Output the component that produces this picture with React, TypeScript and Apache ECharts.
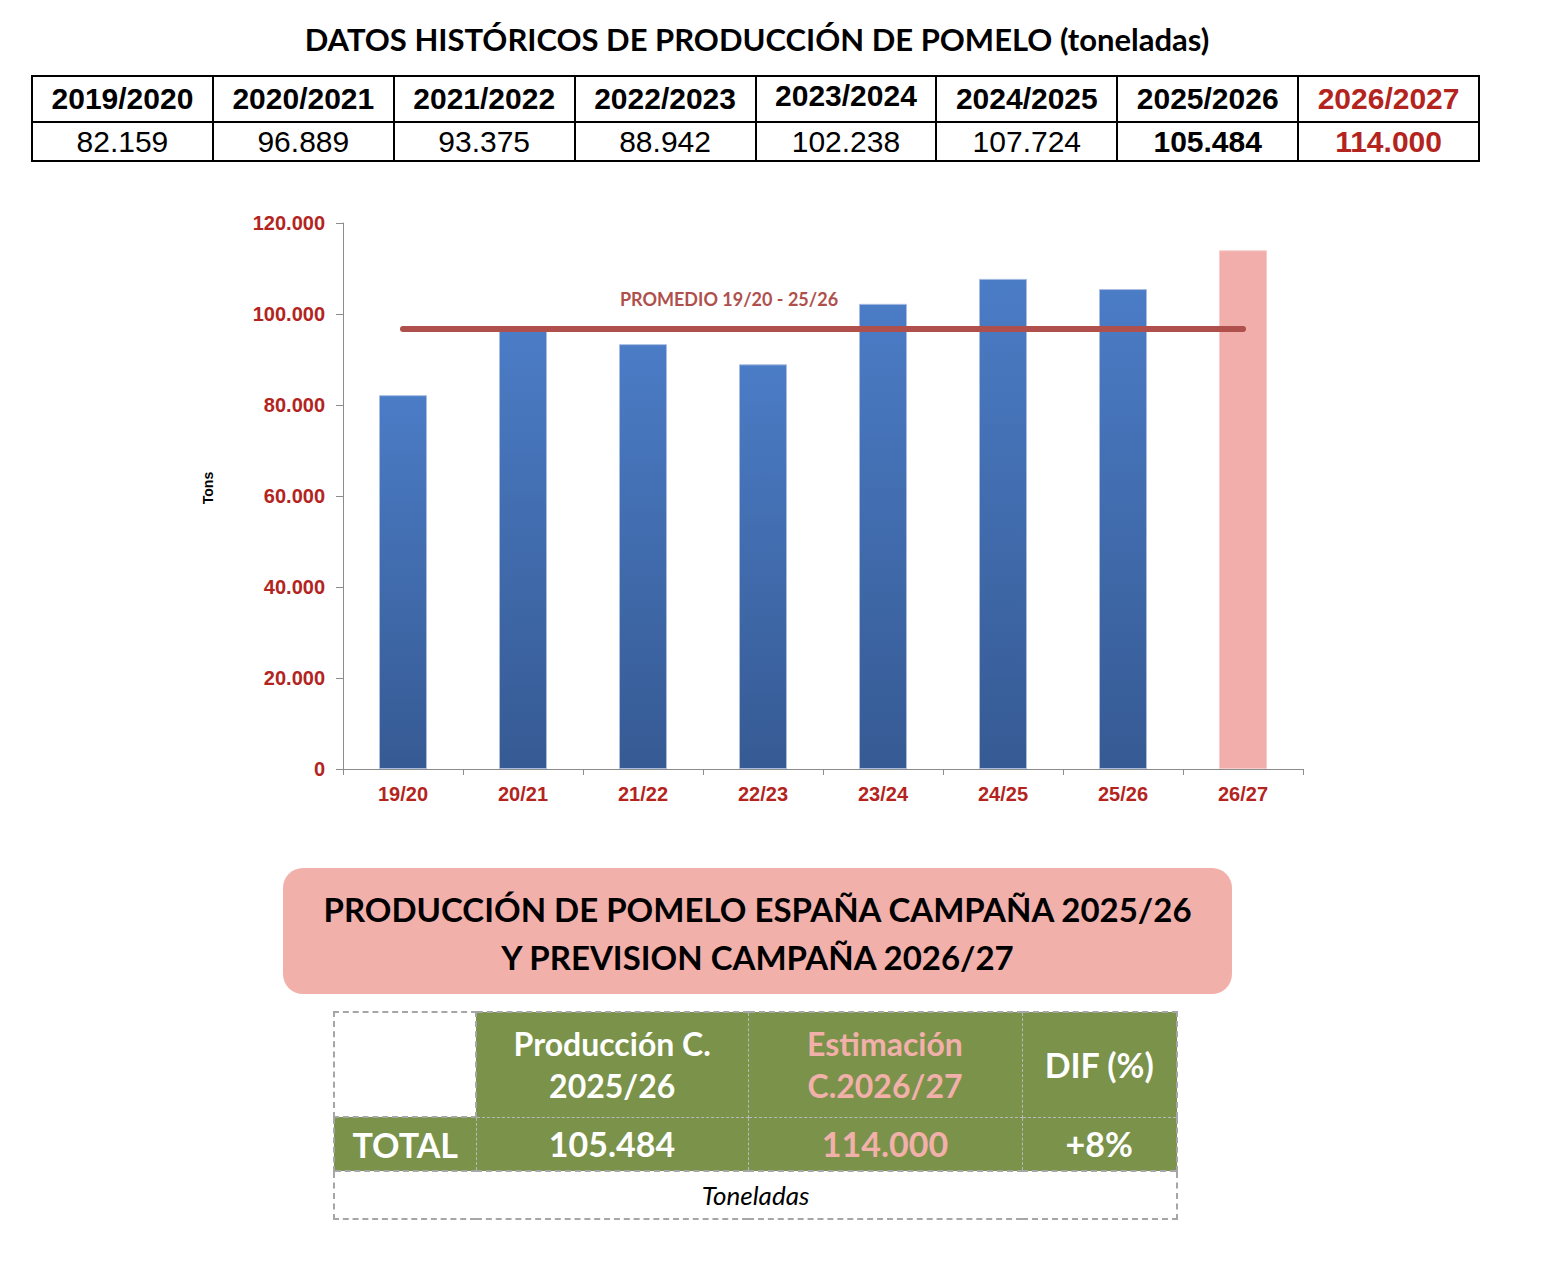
import React, { useEffect, useRef } from 'react';
import * as echarts from 'echarts';

// datos
const seasons = ['2019/2020', '2020/2021', '2021/2022', '2022/2023', '2023/2024', '2024/2025', '2025/2026', '2026/2027'];
const seasonLabels = ['19/20', '20/21', '21/22', '22/23', '23/24', '24/25', '25/26', '26/27'];
const production = [82159, 96889, 93375, 88942, 102238, 107724, 105484, 114000];
const forecastIndex = 7;
const currentIndex = 6;

const RED = '#b3241e';
const AVG_COLOR = '#b0504c';
const PINK = '#f2b0ab';
const GREEN = '#7b924a';
const CALIBRI = 'Lato, "Noto Sans", sans-serif';
const ARIAL = '"Liberation Sans", Arial, Helvetica, sans-serif';

const fmt = (v: number) => String(v).replace(/\B(?=(\d{3})+(?!\d))/g, '.');

// promedio de las campañas cerradas
const history = production.slice(0, forecastIndex);
const average = history.reduce((a, b) => a + b, 0) / history.length;
const diffPct = Math.round(((production[forecastIndex] - production[currentIndex]) / production[currentIndex]) * 100);

const Chart: React.FC = () => {
    const ref = useRef<HTMLDivElement>(null);

    useEffect(() => {
        if (!ref.current) return;
        const chart = echarts.init(ref.current, null, { renderer: 'svg' });
        const blue = new echarts.graphic.LinearGradient(0, 0, 0, 1, [
            { offset: 0, color: '#4b7cc6' },
            { offset: 1, color: '#365a93' }
        ]);
        chart.setOption({
            animation: false,
            grid: { left: 343, right: 243, top: 43, bottom: 71 },
            xAxis: {
                type: 'category',
                data: seasonLabels,
                axisLine: { lineStyle: { color: '#8c8c8c', width: 1 } },
                axisTick: { show: true, length: 6, lineStyle: { color: '#8c8c8c' } },
                axisLabel: {
                    color: RED,
                    fontWeight: 'bold',
                    fontSize: 20,
                    fontFamily: ARIAL,
                    margin: 15
                }
            },
            yAxis: {
                type: 'value',
                min: 0,
                max: 120000,
                interval: 20000,
                name: 'Tons',
                nameLocation: 'middle',
                nameRotate: 90,
                nameGap: 128,
                nameTextStyle: { color: '#000', fontWeight: 'bold', fontSize: 14, fontFamily: ARIAL, padding: [0, 0, 0, 16] },
                axisLine: { show: true, lineStyle: { color: '#8c8c8c', width: 1 } },
                axisTick: { show: true, length: 7, lineStyle: { color: '#8c8c8c' } },
                splitLine: { show: false },
                axisLabel: {
                    formatter: (v: number) => fmt(v),
                    color: RED,
                    fontWeight: 'bold',
                    fontSize: 20,
                    fontFamily: ARIAL,
                    margin: 18
                }
            },
            series: [
                {
                    type: 'bar',
                    barWidth: '40%',
                    itemStyle: { color: blue, borderColor: '#a9bde2', borderWidth: 1 },
                    data: production.map((v, i) =>
                        i === forecastIndex
                            ? { value: v, itemStyle: { color: '#f2aeab', borderColor: '#f7cdca', borderWidth: 1 } }
                            : v
                    ),
                    markLine: {
                        silent: true,
                        symbol: ['none', 'none'],
                        label: { show: false },
                        lineStyle: { color: AVG_COLOR, width: 6, type: 'solid', cap: 'round' },
                        data: [[
                            { coord: [seasonLabels[0], average] },
                            { coord: [seasonLabels[forecastIndex], average] }
                        ]]
                    }
                }
            ],
            graphic: [
                {
                    type: 'text',
                    x: 729,
                    y: 119,
                    style: {
                        text: `PROMEDIO ${seasonLabels[0]} - ${seasonLabels[currentIndex]}`,
                        fill: AVG_COLOR,
                        font: `bold 18px ${CALIBRI}`,
                        textAlign: 'center',
                        textVerticalAlign: 'middle'
                    }
                }
            ]
        });
        return () => chart.dispose();
    }, []);

    return <div ref={ref} style={{ position: 'absolute', left: 0, top: 180, width: 1546, height: 660 }} />;
};

const App: React.FC = () => {
    const topCell: React.CSSProperties = {
        border: '2px solid #000',
        textAlign: 'center',
        padding: 0,
        fontFamily: ARIAL,
        fontSize: 30,
        lineHeight: '34px'
    };
    const greenCell: React.CSSProperties = {
        background: GREEN,
        border: '1px dashed #b8b8b8',
        color: '#fff',
        fontFamily: CALIBRI,
        fontWeight: 'bold',
        textAlign: 'center',
        padding: 0
    };
    const dashed = '2px dashed #a6a6a6';

    return (
        <div style={{ position: 'relative', width: 1546, height: 1264, margin: -8, background: '#fff', overflow: 'hidden' }}>
            <div style={{
                position: 'absolute', left: 207, top: 20, width: 1100, textAlign: 'center',
                fontFamily: CALIBRI, fontWeight: 'bold', fontSize: 31, color: '#000'
            }}>
                DATOS HISTÓRICOS DE PRODUCCIÓN DE POMELO (toneladas)
            </div>

            <table style={{ position: 'absolute', left: 31, top: 75, width: 1449, borderCollapse: 'collapse', tableLayout: 'fixed' }}>
                <tbody>
                    <tr style={{ height: 46 }}>
                        {seasons.map((s, i) => (
                            <td key={s} style={{
                                ...topCell,
                                fontWeight: 'bold',
                                color: i === forecastIndex ? RED : '#000',
                                paddingBottom: i === 4 ? 6 : 0
                            }}>{s}</td>
                        ))}
                    </tr>
                    <tr style={{ height: 39 }}>
                        {production.map((v, i) => (
                            <td key={i} style={{
                                ...topCell,
                                fontWeight: i >= currentIndex ? 'bold' : 'normal',
                                color: i === forecastIndex ? RED : '#000'
                            }}>{fmt(v)}</td>
                        ))}
                    </tr>
                </tbody>
            </table>

            <Chart />

            <div style={{
                position: 'absolute', left: 283, top: 868, width: 949, height: 126, borderRadius: 20,
                background: PINK, display: 'flex', alignItems: 'center', justifyContent: 'center',
                textAlign: 'center', fontFamily: CALIBRI, fontWeight: 'bold', fontSize: 33, lineHeight: '48px', color: '#000'
            }}>
                <div style={{ marginTop: 4 }}>
                    PRODUCCIÓN DE POMELO ESPAÑA CAMPAÑA 2025/26<br />Y PREVISION CAMPAÑA 2026/27
                </div>
            </div>

            <table style={{ position: 'absolute', left: 333, top: 1011, width: 843, borderCollapse: 'collapse', tableLayout: 'fixed' }}>
                <colgroup>
                    <col style={{ width: 142 }} />
                    <col style={{ width: 272 }} />
                    <col style={{ width: 274 }} />
                    <col style={{ width: 155 }} />
                </colgroup>
                <tbody>
                    <tr style={{ height: 105 }}>
                        <td style={{ border: dashed, background: '#fff' }} />
                        <td style={{ ...greenCell, borderTop: dashed, fontSize: 32, lineHeight: '42px' }}>Producción C.<br />2025/26</td>
                        <td style={{ ...greenCell, borderTop: dashed, fontSize: 32, lineHeight: '42px', color: PINK }}>Estimación<br />C.2026/27</td>
                        <td style={{ ...greenCell, borderTop: dashed, borderRight: dashed, fontSize: 34 }}>DIF (%)</td>
                    </tr>
                    <tr style={{ height: 54 }}>
                        <td style={{ ...greenCell, borderLeft: dashed, fontSize: 34 }}>TOTAL</td>
                        <td style={{ ...greenCell, fontSize: 34 }}>{fmt(production[currentIndex])}</td>
                        <td style={{ ...greenCell, fontSize: 34, color: PINK }}>{fmt(production[forecastIndex])}</td>
                        <td style={{ ...greenCell, borderRight: dashed, fontSize: 34 }}>{`+${diffPct}%`}</td>
                    </tr>
                    <tr style={{ height: 48 }}>
                        <td colSpan={4} style={{
                            border: dashed, textAlign: 'center', fontFamily: CALIBRI,
                            fontStyle: 'italic', fontSize: 26, color: '#000', padding: 0
                        }}>Toneladas</td>
                    </tr>
                </tbody>
            </table>
        </div>
    );
};

export default App;
